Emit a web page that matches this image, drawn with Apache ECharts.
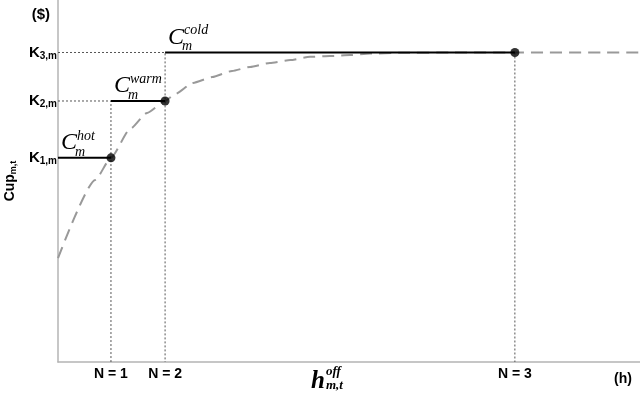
<!DOCTYPE html>
<html>
<head>
<meta charset="utf-8">
<script src="https://cdn.jsdelivr.net/npm/echarts@6/dist/echarts.min.js"></script>
<style>
html,body{margin:0;padding:0;background:#fff}
#main{width:640px;height:397px}
</style>
</head>
<body>
<div id="main"></div>
<script>
// startup regimes: hot / warm / cold
var nLabels = ['N = 1', 'N = 2', 'N = 3'];
var nValues = [9.1, 18.4, 78.5];
var kLabels = ['1,m', '2,m', '3,m'];
var kValues = [56.4, 72.1, 85.5];
var regimes = ['hot', 'warm', 'cold'];
// dashed cost curve
var curveX = [0, 6.4, 9.1, 12.4, 15.3, 18.4, 20.1, 23.2, 26.5, 29.9, 33.0, 36.4, 39.9, 43.3, 46.7, 50.2, 53.6, 58.8, 67.4, 78.5, 100];
var curveY = [28.7, 50.3, 56.4, 64.4, 68.8, 72.1, 74.0, 77.1, 78.7, 80.4, 81.5, 82.6, 83.4, 84.3, 84.5, 84.8, 85.2, 85.4, 85.5, 85.5, 85.5];

var sans = 'Liberation Sans';
var serif = 'Liberation Serif';

var chart = echarts.init(document.getElementById('main'));

var curve = [];
for (var i = 0; i < curveX.length; i++) {
    curve.push([curveX[i], curveY[i]]);
}

var starts = [0, nValues[0], nValues[1]];
// dotted guide lines
var guides = [
    [[0, kValues[1]], [nValues[0], kValues[1]], [nValues[0], 0]],
    [[0, kValues[2]], [nValues[1], kValues[2]], [nValues[1], 0]],
    [[nValues[2], kValues[2]], [nValues[2], 0]]
];

var series = [];
guides.forEach(function (g) {
    series.push({
        type: 'line', silent: true, symbol: 'none', z: 1,
        lineStyle: {color: '#555', width: 1, type: [2, 2]},
        data: g
    });
});
series.push({
    type: 'line', silent: true, symbol: 'none', z: 2,
    smooth: 0.2, smoothMonotone: 'x',
    lineStyle: {color: '#999', width: 2, type: [12, 7]},
    data: curve
});
for (var j = 0; j < 3; j++) {
    series.push({
        type: 'line', silent: true, symbol: 'none', z: 4,
        lineStyle: {color: '#000', width: 2},
        data: [[starts[j], kValues[j]], [nValues[j], kValues[j]]]
    });
}
series.push({
    type: 'scatter', silent: true, z: 5,
    symbolSize: 9,
    itemStyle: {color: '#000'},
    data: nValues.map(function (n, i) { return [n, kValues[i]]; })
});

var option = {
    backgroundColor: '#fff',
    animation: false,
    grid: {left: 58, right: 0, top: 0, bottom: 35, outerBoundsMode: 'none', containLabel: false},
    xAxis: {
        type: 'value', min: 0, max: 100,
        splitLine: {show: false},
        axisLine: {lineStyle: {color: '#b4b4b4', width: 1.5}},
        axisTick: {show: false},
        axisLabel: {
            customValues: nValues,
            margin: 5,
            color: '#000',
            fontFamily: sans,
            fontWeight: 'bold',
            fontSize: 14,
            formatter: function (v) {
                return nLabels[nValues.indexOf(v)];
            }
        }
    },
    yAxis: {
        type: 'value', min: 0, max: 100,
        splitLine: {show: false},
        axisLine: {lineStyle: {color: '#b4b4b4', width: 1.5}},
        axisTick: {show: false},
        name: '{a|Cup}{s|m,t}',
        nameLocation: 'middle',
        nameGap: 40,
        nameRotate: 90,
        nameTextStyle: {
            rich: {
                a: {fontFamily: sans, fontWeight: 'bold', fontSize: 14, color: '#000'},
                s: {fontFamily: sans, fontWeight: 'bold', fontSize: 9, color: '#000', padding: [7, 0, 0, 0]}
            }
        },
        axisLabel: {
            customValues: kValues.concat([96]),
            margin: 1,
            formatter: function (v) {
                var i = kValues.indexOf(v);
                if (i < 0) return '{d|($)}';
                return '{k|K}{s|' + kLabels[i] + '}';
            },
            rich: {
                k: {fontFamily: sans, fontWeight: 'bold', fontSize: 15, color: '#000'},
                s: {fontFamily: sans, fontWeight: 'bold', fontSize: 10, color: '#000', padding: [7, 0, 0, 0]},
                d: {fontFamily: sans, fontWeight: 'bold', fontSize: 15, color: '#000', padding: [0, 7, 0, 0]}
            }
        }
    },
    series: series
};
chart.setOption(option);

// C labels placed next to the start of each step
var texts = [];
for (var r = 0; r < regimes.length; r++) {
    var p = chart.convertToPixel({gridIndex: 0}, [starts[r], kValues[r]]);
    texts.push({
        type: 'text', x: p[0] + 3, y: p[1] - 15, z: 10,
        style: {text: 'C', font: 'italic 24px ' + serif, fill: '#000', align: 'left', verticalAlign: 'middle'}
    });
    texts.push({
        type: 'text', x: p[0] + 19, y: p[1] - 22, z: 10,
        style: {text: regimes[r], font: 'italic 14px ' + serif, fill: '#000', align: 'left', verticalAlign: 'middle'}
    });
    texts.push({
        type: 'text', x: p[0] + 17, y: p[1] - 6, z: 10,
        style: {text: 'm', font: 'italic 14px ' + serif, fill: '#000', align: 'left', verticalAlign: 'middle'}
    });
}
texts.push({
    type: 'text', left: 311, top: 369,
    style: {text: 'h', font: 'bold italic 25px ' + serif, fill: '#000'}
});
texts.push({
    type: 'text', left: 326, top: 365,
    style: {text: 'off', font: 'bold italic 13px ' + serif, fill: '#000'}
});
texts.push({
    type: 'text', left: 326, top: 379,
    style: {text: 'm,t', font: 'bold italic 13px ' + serif, fill: '#000'}
});
texts.push({
    type: 'text', left: 614, top: 372,
    style: {text: '(h)', font: 'bold 14px ' + sans, fill: '#000'}
});
chart.setOption({graphic: texts});
</script>
</body>
</html>
